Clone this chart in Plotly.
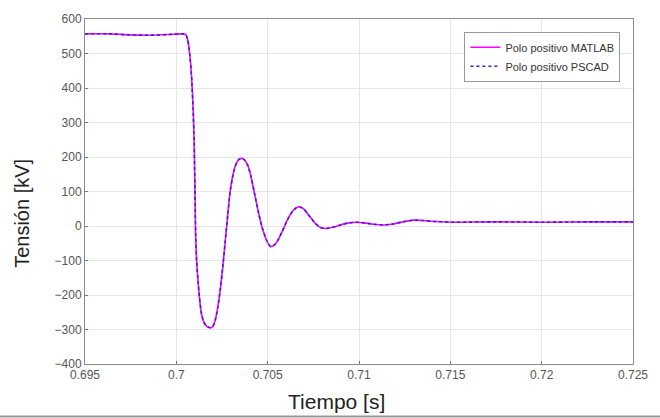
import plotly.graph_objects as go

# Time (s) and voltage (kV)
t = [0.69500, 0.69635, 0.69743, 0.69851, 0.69959, 0.70030, 0.700514, 0.700622, 0.700730,
     0.700838, 0.700919, 0.700973, 0.701016, 0.701054, 0.701108, 0.701189, 0.701270,
     0.701378, 0.701486, 0.701595, 0.701730, 0.701865, 0.702000, 0.702135, 0.702270,
     0.702405, 0.702541, 0.702676, 0.702811, 0.702946, 0.703108, 0.703270, 0.703432,
     0.703595, 0.703757, 0.703919, 0.704081, 0.704297, 0.704514, 0.704730, 0.704946,
     0.705162, 0.705378, 0.705595, 0.705811, 0.706081, 0.706351, 0.706568, 0.706784,
     0.707000, 0.707270, 0.707595, 0.707919, 0.708243, 0.708622, 0.709054, 0.709432,
     0.709865, 0.710297, 0.710784, 0.711324, 0.711865, 0.712405, 0.712946, 0.713486,
     0.714189, 0.715270, 0.717432, 0.720135, 0.722838, 0.725000]
v_matlab = [557, 557, 554, 553, 555, 557, 555, 540, 500,
            430, 340, 250, 120, -20, -100, -160, -210,
            -255, -276, -287, -293, -295, -291, -272, -235,
            -185, -120, -45, 30, 100, 150, 180, 193,
            196, 190, 175, 145, 90, 35, -10, -42,
            -60, -55, -38, -14, 18, 42, 53, 55,
            48, 30, 8, -5, -7, -3, 4, 9,
            11, 9, 5, 3, 6, 12, 17, 16,
            13, 11, 12, 11, 12, 12]
v_pscad = list(v_matlab)

x_ticks = [0.695, 0.7, 0.705, 0.71, 0.715, 0.72, 0.725]
x_tick_labels = ["0.695", "0.7", "0.705", "0.71", "0.715", "0.72", "0.725"]
y_ticks = [-400, -300, -200, -100, 0, 100, 200, 300, 400, 500, 600]

fig = go.Figure()
fig.add_trace(go.Scatter(
    x=t, y=v_matlab, mode="lines", name="Polo positivo MATLAB",
    line=dict(color="#FF00FF", width=1.6, shape="spline", smoothing=0.4)))
fig.add_trace(go.Scatter(
    x=t, y=v_pscad, mode="lines", name="Polo positivo PSCAD",
    line=dict(color="#2a2ac8", width=1.6, dash="3px,3px", shape="spline", smoothing=0.4)))

axis_common = dict(
    showgrid=True, gridcolor="#e6e6e6", gridwidth=1,
    showline=True, linecolor="#8c8c8c", linewidth=1, mirror=True,
    ticks="inside", ticklen=3, tickcolor="#777",
    tickfont=dict(family="Liberation Sans, Arial", size=12, color="#555"),
    zeroline=False,
)

fig.update_layout(
    width=660, height=418,
    margin=dict(l=85, r=19, t=17, b=54),
    paper_bgcolor="white", plot_bgcolor="white",
    font=dict(family="Liberation Sans, Arial"),
    showlegend=True,
    legend=dict(
        x=0.977, y=0.963, xanchor="right", yanchor="top",
        bgcolor="white", bordercolor="#999", borderwidth=1,
        font=dict(size=11, color="#333"),
        tracegroupgap=0,
    ),
    xaxis=dict(axis_common, range=[0.695, 0.725], tickvals=x_ticks, ticktext=x_tick_labels),
    yaxis=dict(axis_common, range=[-400, 600], tickvals=y_ticks),
    annotations=[
        dict(text="Tiempo [s]", xref="paper", yref="paper", x=(340 - 85) / 556, y=-0.07,
             xanchor="center", yanchor="top", showarrow=False,
             font=dict(size=21, color="#222")),
        dict(text="Tensión [kV]", xref="paper", yref="paper", x=-0.115, y=(364 - 212) / 347,
             xanchor="center", yanchor="middle", textangle=-90, showarrow=False,
             font=dict(size=20, color="#222")),
    ],
    shapes=[dict(type="line", xref="paper", yref="paper", x0=-0.2, x1=1.1,
                 y0=-0.152, y1=-0.152, line=dict(color="#999", width=2))],
)

fig.write_html("out.html")
